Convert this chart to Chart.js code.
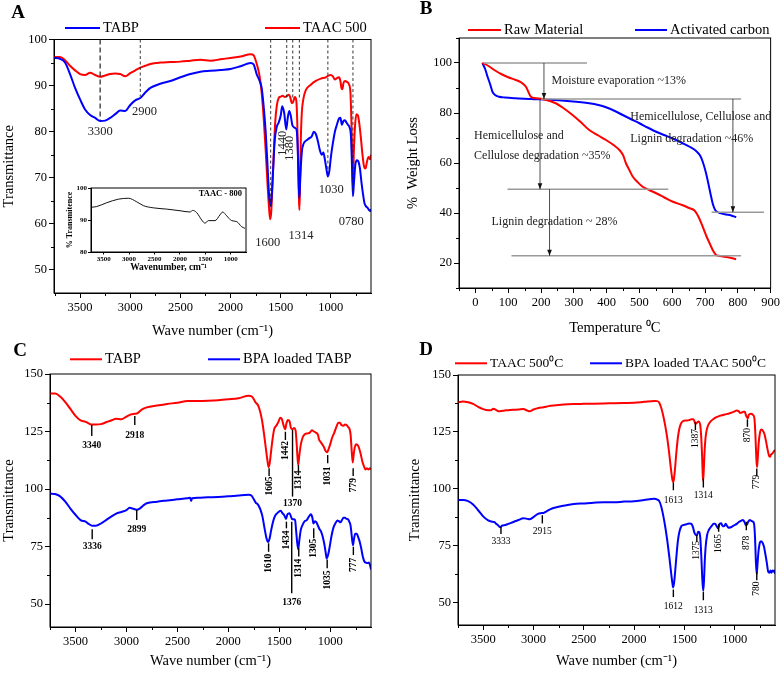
<!DOCTYPE html>
<html>
<head>
<meta charset="utf-8">
<script src="https://cdn.jsdelivr.net/npm/chart.js@4.4.0/dist/chart.umd.min.js"></script>
<style>
    html, body { margin: 0; padding: 0; background: #fff; }
    #wrap { position: relative; width: 782px; height: 674px; }
    #wrap canvas { position: absolute; left: 0; top: 0; }
</style>
</head>
<body>
<div id="wrap">
    <canvas id="chartA" width="782" height="674"></canvas>
    <canvas id="chartInset" width="782" height="674"></canvas>
    <canvas id="chartB" width="782" height="674"></canvas>
    <canvas id="chartC" width="782" height="674"></canvas>
    <canvas id="chartD" width="782" height="674"></canvas>
</div>
<script>
(function () {
    "use strict";

    // ---------- data ----------
    var waveTicks = [3500, 3000, 2500, 2000, 1500, 1000];
    var waveMinor = [3750, 3250, 2750, 2250, 1750, 1250, 750];

    // Panel A
    var aTransTicks = [50, 60, 70, 80, 90, 100];
    var aTransMinor = [55, 65, 75, 85, 95];
    var aTabpWave = [3760, 3700, 3650, 3600, 3550, 3500, 3450, 3400, 3350, 3300, 3250, 3200, 3150, 3100, 3050, 3000, 2950, 2900, 2850, 2800, 2700, 2600, 2500, 2400, 2300, 2200, 2100, 2000, 1900, 1800, 1770, 1740, 1710, 1690, 1670, 1650, 1630, 1615, 1600, 1590, 1575, 1560, 1540, 1520, 1500, 1485, 1465, 1445, 1430, 1415, 1400, 1385, 1370, 1355, 1340, 1330, 1320, 1314, 1305, 1290, 1270, 1250, 1220, 1190, 1170, 1150, 1130, 1110, 1090, 1075, 1060, 1045, 1030, 1015, 1000, 980, 960, 940, 920, 905, 890, 875, 860, 845, 830, 815, 800, 790, 780, 770, 755, 740, 725, 710, 695, 680, 665, 650, 635, 620, 605, 600];
    var aTabpTrans = [96.0, 95.8, 95.0, 92.5, 89.5, 87.0, 84.8, 83.6, 83.0, 82.3, 82.4, 83.0, 83.8, 84.6, 84.5, 85.8, 86.8, 87.3, 88.5, 89.5, 90.4, 91.0, 91.8, 92.5, 93.0, 93.2, 93.4, 93.6, 94.2, 94.9, 94.6, 92.5, 91.0, 89.5, 85.5, 80.0, 72.0, 66.0, 63.8, 66.0, 72.0, 78.0, 81.0, 82.0, 83.5, 85.5, 84.0, 80.5, 83.0, 84.5, 83.5, 81.5, 81.0, 80.8, 80.2, 76.0, 68.0, 65.5, 70.0, 75.5, 77.5, 78.0, 78.5, 79.0, 80.0, 79.5, 78.0, 76.0, 75.0, 75.5, 74.0, 72.0, 70.3, 71.5, 74.5, 77.5, 80.0, 81.5, 82.8, 83.0, 81.5, 82.3, 82.5, 82.0, 81.5, 81.0, 79.0, 73.0, 66.0, 69.0, 73.0, 73.8, 73.5, 72.0, 69.0, 66.5, 64.5, 63.8, 63.5, 63.0, 62.8, 63.2];
    var aTaacWave = [3760, 3700, 3650, 3600, 3550, 3500, 3450, 3400, 3350, 3300, 3250, 3200, 3150, 3100, 3050, 3000, 2950, 2900, 2850, 2800, 2700, 2600, 2500, 2400, 2300, 2200, 2100, 2000, 1900, 1800, 1770, 1750, 1730, 1710, 1690, 1670, 1650, 1630, 1615, 1605, 1595, 1585, 1570, 1555, 1540, 1520, 1500, 1480, 1460, 1440, 1420, 1405, 1390, 1375, 1360, 1345, 1335, 1325, 1318, 1314, 1308, 1300, 1290, 1275, 1250, 1200, 1150, 1100, 1050, 1020, 1000, 980, 960, 940, 920, 905, 895, 885, 875, 860, 840, 820, 805, 795, 785, 780, 772, 760, 745, 730, 715, 700, 685, 670, 655, 640, 625, 610, 600];
    var aTaacTrans = [96.2, 96.2, 95.5, 94.3, 93.3, 92.5, 92.3, 92.8, 92.3, 91.9, 92.2, 92.5, 92.6, 92.5, 92.0, 92.7, 93.3, 93.9, 94.3, 94.7, 95.0, 95.1, 95.2, 95.4, 95.6, 95.4, 95.7, 96.0, 96.3, 96.8, 96.6, 95.5, 94.0, 92.0, 88.5, 83.0, 76.0, 68.0, 63.0, 61.0, 62.5, 67.0, 75.0, 82.0, 85.5, 87.3, 87.6, 87.8, 87.5, 87.7, 88.0, 87.5, 86.2, 86.5, 87.5, 86.8, 82.0, 72.0, 65.0, 63.0, 68.0, 78.0, 84.0, 87.0, 89.0, 90.2, 91.0, 91.5, 91.8, 92.2, 92.3, 92.0, 91.3, 91.6, 91.8, 91.0, 89.5, 89.2, 90.5, 91.0, 90.8, 90.3, 88.5, 82.0, 72.0, 68.0, 75.0, 81.0, 83.8, 83.5, 81.5, 78.5, 75.0, 72.5, 72.0, 73.5, 74.5, 74.0, 75.0];
    var aPeakWave = [3300, 2900, 1600, 1440, 1380, 1314, 1030, 780];
    var aPeakLineEnd = [82.5, 87.6, 63.7, 87.4, 87.4, 86.8, 71, 66.6];
    var aLabelText = ['3300', '2900', '1440', '1380', '1600', '1314', '1030', '0780'];
    var aLabelWave = [3300, 2857, 1484, 1407, 1630, 1297, 997, 797];
    var aLabelTrans = [80, 84.3, 77.5, 76.4, 56, 57.5, 67.3, 60.4];

    // Inset (TAAC - 800)
    var insetTicks = [80, 90, 100];
    var insetWave = [3736, 3638, 3441, 3213, 3016, 2851, 2721, 2524, 2260, 1999, 1801, 1749, 1670, 1572, 1507, 1442, 1310, 1212, 1159, 1080, 982, 883, 785, 720];
    var insetTrans = [94.0, 94.2, 95.4, 96.5, 96.8, 95.7, 94.5, 93.8, 93.4, 92.9, 92.5, 93.0, 92.3, 90.0, 89.0, 89.8, 89.8, 91.6, 92.5, 91.3, 89.8, 89.5, 87.9, 87.4];

    // Panel B (TGA)
    var tempTicks = [0, 100, 200, 300, 400, 500, 600, 700, 800, 900];
    var tempMinor = [-50, 50, 150, 250, 350, 450, 550, 650, 750, 850];
    var lossTicks = [20, 40, 60, 80, 100];
    var lossMinor = [10, 30, 50, 70, 90, 110];
    var rawTemp = [21, 40, 60, 80, 100, 123, 140, 154, 162, 169, 180, 205, 245, 270, 296, 320, 347, 375, 398, 420, 439, 450, 459, 470, 480, 495, 510, 530, 551, 575, 602, 630, 653, 668, 680, 693, 705, 714, 725, 734, 745, 770, 795];
    var rawLoss = [100, 98.8, 97, 95.5, 94.3, 93.2, 92.2, 90.5, 88.3, 86.5, 86.0, 85.6, 83.9, 81.8, 79.2, 76.5, 73.2, 71.0, 69.2, 67.3, 65.2, 63.2, 59.9, 57.0, 54.5, 52.3, 50.5, 49.2, 47.9, 46.3, 44.5, 43.2, 41.9, 41.0, 38.5, 34.5, 30.5, 27.9, 24.8, 23.2, 22.8, 22.3, 21.5];
    var carbonTemp = [21, 30, 37, 45, 52, 60, 72, 90, 123, 170, 225, 280, 347, 375, 398, 425, 449, 475, 500, 525, 551, 575, 602, 630, 653, 673, 685, 693, 702, 709, 717, 724, 731, 739, 760, 780, 795];
    var carbonLoss = [100, 97.5, 94.5, 91.5, 88.5, 87.2, 86.5, 86.2, 85.9, 85.6, 85.3, 84.8, 83.9, 83.2, 82.3, 80.8, 79.2, 77.5, 75.9, 74.2, 72.5, 71.2, 69.8, 68.0, 66.5, 64.8, 63.0, 60.5, 56.5, 52.5, 47.5, 43.5, 41.2, 40.3, 39.5, 39.0, 38.3];
    // guide lines [from, to, level], arrows [temp, from, to]
    var bGuides = [[25, 340, 100], [200, 810, 85.6], [98, 588, 49.5], [110, 810, 22.9], [720, 880, 40.3]];
    var bArrows = [[209, 100, 85.6], [197, 85.6, 49.5], [226, 49.5, 22.9], [785, 85.6, 40.3]];
    var bNotes = [
        ['Moisture evaporation ~13%', 232, 92.8],
        ['Hemicellulose, Cellulose and', 472, 78.4],
        ['Lignin degradation ~46%', 472, 69.6],
        ['Hemicellulose and', -4, 71],
        ['Cellulose degradation ~35%', -4, 62.8],
        ['Lignin degradation ~ 28%', 49, 36.4]
    ];

    // Panels C and D
    var cdTransTicks = [50, 75, 100, 125, 150];
    var cdTransMinor = [62.5, 87.5, 112.5, 137.5];
    var cTabpWave = [3750, 3700, 3650, 3600, 3550, 3500, 3450, 3400, 3370, 3340, 3300, 3250, 3200, 3150, 3100, 3050, 3000, 2950, 2918, 2890, 2850, 2800, 2700, 2600, 2500, 2400, 2300, 2200, 2100, 2000, 1900, 1800, 1770, 1750, 1730, 1710, 1690, 1670, 1650, 1630, 1615, 1605, 1595, 1580, 1565, 1550, 1530, 1510, 1490, 1475, 1460, 1442, 1430, 1415, 1400, 1385, 1370, 1355, 1340, 1330, 1320, 1314, 1305, 1290, 1270, 1250, 1220, 1200, 1180, 1160, 1140, 1120, 1110, 1095, 1080, 1065, 1045, 1031, 1015, 1000, 980, 960, 940, 920, 905, 890, 870, 855, 840, 825, 810, 800, 790, 779, 770, 760, 745, 730, 715, 700, 685, 670, 655, 640, 625, 610, 600];
    var cTabpTrans = [141.5, 141.5, 140.2, 137.8, 134.8, 131.8, 129.8, 129.2, 128.5, 128.0, 128.0, 128.2, 129.0, 129.8, 130.5, 130.3, 131.5, 132.5, 132.7, 133.0, 134.5, 135.5, 136.3, 137.0, 137.5, 138.3, 138.3, 138.4, 138.6, 139.0, 139.5, 140.5, 140.2, 139.0, 137.5, 136.5, 134.0, 130.0, 124.0, 117.0, 112.0, 109.5, 111.0, 116.5, 122.0, 126.0, 127.5, 129.0, 131.0, 130.5, 128.0, 126.0, 128.5, 130.0, 129.5, 126.5, 126.0, 126.5, 125.5, 120.0, 113.0, 110.5, 114.0, 119.0, 122.5, 123.8, 124.2, 124.5, 125.5, 125.0, 124.5, 123.5, 121.5, 120.5, 119.5, 118.5, 116.5, 116.0, 117.5, 119.5, 122.5, 124.5, 127.0, 128.8, 128.8, 127.8, 127.5, 128.0, 127.8, 127.0, 126.0, 123.5, 117.0, 111.5, 115.0, 118.0, 119.5, 119.0, 117.5, 115.0, 112.0, 110.0, 108.5, 109.0, 108.5, 109.0, 108.5];
    var cLoadedWave = [3750, 3700, 3650, 3600, 3550, 3500, 3450, 3400, 3370, 3336, 3300, 3250, 3200, 3150, 3100, 3050, 3000, 2970, 2940, 2900, 2870, 2830, 2800, 2700, 2600, 2500, 2400, 2375, 2365, 2355, 2300, 2200, 2100, 2000, 1900, 1800, 1770, 1750, 1730, 1715, 1700, 1685, 1665, 1645, 1625, 1610, 1595, 1580, 1560, 1540, 1520, 1500, 1485, 1470, 1450, 1434, 1420, 1400, 1385, 1376, 1360, 1345, 1335, 1325, 1314, 1305, 1290, 1270, 1250, 1230, 1210, 1190, 1175, 1165, 1150, 1135, 1120, 1105, 1090, 1075, 1060, 1045, 1035, 1020, 1005, 990, 970, 950, 930, 915, 900, 885, 870, 855, 840, 825, 810, 800, 790, 777, 768, 755, 740, 725, 710, 695, 680, 665, 650, 635, 620, 610, 600];
    var cLoadedTrans = [98.0, 97.8, 96.8, 94.5, 91.5, 88.8, 86.5, 85.8, 84.8, 84.0, 84.0, 85.0, 86.5, 88.0, 89.3, 90.0, 90.8, 91.8, 91.5, 91.0, 91.5, 93.0, 93.8, 94.5, 95.0, 95.5, 96.0, 96.2, 94.8, 96.0, 96.2, 96.4, 96.5, 96.8, 97.2, 97.5, 97.0, 95.5, 94.0, 93.5, 92.5, 91.0, 88.0, 83.0, 78.5, 77.0, 78.5, 82.0, 86.0, 88.5, 89.5, 90.3, 90.5, 89.5, 88.5, 87.0, 89.0, 89.5, 88.0, 87.0, 86.8, 86.5, 82.0, 77.0, 73.8, 77.0, 82.0, 84.5, 86.0, 86.5, 88.0, 89.0, 87.5, 85.0, 86.0, 85.5, 84.0, 82.5, 81.5, 79.5, 76.5, 72.5, 69.8, 71.5, 75.0, 79.0, 83.0, 85.0, 86.3, 86.0, 85.5, 86.5, 87.5, 87.5, 87.0, 86.8, 85.5, 84.0, 80.0, 75.5, 78.0, 80.5, 80.5, 79.0, 77.0, 74.0, 70.5, 68.5, 68.0, 67.8, 68.0, 67.0, 65.0];
    // marks: [label, wave, tick from, tick to, label level, rotated]
    var cMarks = [
        ['3340', 3340, 127.8, 123.0, 119.1, 0], ['2918', 2918, 131.7, 127.8, 123.3, 0],
        ['1605', 1600, 109.0, 105.7, 101.3, 1], ['1442', 1440, 124.9, 121.3, 116.7, 1],
        ['1370', 1370, 125.7, 96.7, 93.8, 0], ['1314', 1312, 110.4, 107.5, 103.9, 1],
        ['1031', 1025, 114.8, 111.2, 105.7, 1], ['779', 775, 109.0, 105.7, 101.7, 1],
        ['3336', 3336, 82.5, 78.1, 74.8, 0], ['2899', 2899, 90.9, 86.5, 82.2, 0],
        ['1610', 1605, 76.4, 72.7, 67.7, 1], ['1434', 1430, 85.8, 82.9, 77.8, 1],
        ['1376', 1378, 85.8, 54.7, 50.6, 0], ['1314', 1309, 74.2, 70.6, 65.5, 1],
        ['1305', 1162, 82.9, 78.6, 74.2, 1], ['1035', 1030, 69.4, 65.5, 60.4, 1],
        ['777', 773, 74.9, 71.3, 67.0, 1]
    ];

    var dTaacWave = [3750, 3700, 3650, 3600, 3550, 3500, 3450, 3420, 3400, 3370, 3350, 3300, 3250, 3200, 3150, 3100, 3060, 3040, 3000, 2950, 2900, 2850, 2800, 2700, 2600, 2500, 2400, 2300, 2200, 2100, 2000, 1900, 1800, 1770, 1750, 1730, 1710, 1690, 1670, 1650, 1635, 1620, 1613, 1605, 1595, 1580, 1565, 1550, 1530, 1510, 1490, 1470, 1450, 1430, 1410, 1395, 1387, 1375, 1360, 1345, 1335, 1325, 1318, 1314, 1308, 1300, 1290, 1275, 1250, 1200, 1150, 1100, 1050, 1000, 980, 960, 945, 930, 915, 900, 890, 880, 870, 860, 840, 820, 805, 795, 785, 779, 772, 762, 750, 735, 720, 705, 690, 675, 660, 650, 640, 625, 610, 600];
    var dTaacTrans = [138.0, 138.3, 138.0, 137.3, 136.0, 135.0, 134.5, 134.5, 135.2, 134.6, 134.0, 134.3, 134.5, 134.7, 134.8, 135.0, 134.3, 134.0, 134.8, 135.5, 135.8, 136.3, 136.6, 137.0, 137.2, 137.3, 137.4, 137.5, 137.6, 137.7, 137.8, 138.2, 138.6, 138.5, 137.8, 135.5, 132.0, 127.5, 122.0, 115.0, 109.0, 104.0, 102.8, 104.0, 108.0, 116.0, 122.5, 126.5, 129.0, 129.8, 130.0, 130.0, 130.2, 130.5, 130.5, 129.0, 128.5, 129.0, 129.5, 128.5, 124.0, 115.0, 106.0, 103.5, 108.0, 116.0, 122.5, 126.5, 129.0, 131.0, 132.0, 132.6, 133.2, 134.0, 134.4, 134.0, 133.3, 133.5, 133.8, 133.8, 132.5, 131.5, 131.0, 132.5, 133.0, 132.5, 131.0, 124.0, 113.0, 109.5, 113.0, 120.0, 124.5, 126.0, 125.5, 124.0, 121.0, 117.5, 114.5, 114.0, 115.0, 115.5, 116.5, 117.0];
    var dLoadedWave = [3750, 3700, 3650, 3600, 3550, 3500, 3450, 3420, 3390, 3370, 3350, 3333, 3310, 3280, 3250, 3200, 3150, 3100, 3060, 3040, 3000, 2960, 2930, 2900, 2870, 2830, 2800, 2700, 2600, 2500, 2400, 2300, 2200, 2100, 2000, 1900, 1800, 1770, 1750, 1730, 1710, 1690, 1670, 1650, 1635, 1620, 1612, 1603, 1593, 1580, 1565, 1550, 1530, 1510, 1490, 1470, 1450, 1430, 1415, 1400, 1385, 1375, 1365, 1352, 1342, 1332, 1322, 1313, 1305, 1298, 1290, 1275, 1255, 1230, 1210, 1195, 1180, 1165, 1150, 1135, 1120, 1105, 1090, 1075, 1060, 1040, 1020, 1000, 980, 960, 940, 920, 905, 890, 878, 865, 850, 835, 820, 808, 798, 790, 782, 775, 765, 752, 740, 725, 710, 695, 680, 668, 655, 645, 635, 625, 615, 605, 600];
    var dLoadedTrans = [95.0, 95.0, 94.5, 93.0, 90.5, 87.8, 86.0, 85.5, 85.3, 84.5, 83.8, 83.0, 83.8, 84.0, 84.5, 85.3, 86.2, 87.0, 86.7, 86.5, 87.5, 88.8, 89.2, 89.3, 90.0, 91.0, 91.5, 92.5, 93.2, 93.5, 93.8, 94.0, 94.0, 94.3, 94.5, 95.0, 95.5, 95.2, 94.5, 92.0, 88.0, 83.0, 77.0, 70.0, 64.0, 58.5, 56.5, 58.5, 63.0, 70.0, 77.0, 81.0, 83.5, 84.0, 84.2, 84.5, 84.7, 84.5, 83.0, 80.5, 79.5, 79.5, 81.0, 80.8, 78.0, 70.0, 60.0, 55.0, 60.0, 68.0, 74.0, 79.5, 82.0, 83.5, 84.5, 84.5, 83.5, 82.5, 84.5, 84.8, 83.5, 83.5, 84.5, 83.5, 82.8, 83.0, 83.5, 84.0, 84.5, 85.3, 85.8, 86.2, 85.5, 84.0, 84.2, 85.5, 86.2, 85.8, 85.5, 84.5, 78.0, 68.0, 62.5, 66.0, 72.0, 76.0, 76.8, 76.3, 74.5, 71.0, 67.0, 63.5, 63.0, 64.0, 63.0, 64.0, 63.5, 64.0, 62.5];
    var dMarks = [
        ['1613', 1610, 102.6, 99.3, 94.9, 0], ['1387', 1391, 129.4, 125.8, 122.1, 1],
        ['1314', 1312, 104.5, 100.5, 97.1, 0], ['870', 874, 130.5, 127.2, 123.6, 1],
        ['779', 781, 108.9, 105.5, 103.0, 1],
        ['3333', 3323, 83.2, 80.0, 76.6, 0], ['2915', 2912, 88.3, 84.7, 81.0, 0],
        ['1612', 1610, 55.6, 52.3, 48.2, 0], ['1375', 1377, 79.5, 76.6, 72.9, 1],
        ['1313', 1312, 54.5, 50.9, 46.5, 0], ['1665', 1160, 84.4, 81.0, 75.9, 1],
        ['878', 885, 85.4, 81.7, 76.1, 1], ['780', 781, 63.3, 59.7, 56.0, 1]
    ];

    // ---------- helpers ----------
    var SERIF = '"Liberation Serif", "Times New Roman", serif';
    var W = 782, H = 674;
    var RED = '#ff0000', BLUE = '#0000ff';

    function pts(xs, ys) {
        return xs.map(function (x, i) { return { x: x, y: ys[i] }; });
    }

    function line(data, color, width) {
        return {
            data: data, borderColor: color, borderWidth: width || 2, pointRadius: 0,
            fill: false, cubicInterpolationMode: 'monotone'
        };
    }

    function makeScale(o) {
        return {
            type: 'linear',
            position: o.position,
            min: o.min, max: o.max, reverse: !!o.reverse,
            afterBuildTicks: function (s) {
                s.ticks = o.ticks.map(function (v) { return { value: v }; });
            },
            afterFit: function (s) {
                if (o.position === 'bottom') s.height = o.size; else s.width = o.size;
            },
            grid: { drawOnChartArea: false, drawTicks: true, tickLength: o.tickLength || 5, color: '#000', tickColor: '#000' },
            border: { display: true, color: '#000', width: 1 },
            ticks: {
                color: '#000', padding: o.tickPadding == null ? 2 : o.tickPadding, maxRotation: 0, autoSkip: false,
                callback: function (v) { return String(v); },
                font: { family: SERIF, size: o.tickSize || 12.5, weight: o.bold ? 'bold' : 'normal' }
            },
            title: {
                display: !!o.title, text: o.title, color: '#000',
                padding: o.titlePadding || { top: 4, bottom: 4 },
                font: { family: SERIF, size: o.titleSize || 14.5, weight: o.bold ? 'bold' : 'normal' }
            }
        };
    }

    function makeChart(id, area, pad, datasets, xOpt, yOpt, draw) {
        xOpt.position = 'bottom';
        yOpt.position = 'left';
        xOpt.size = H - pad.bottom - area.b;
        yOpt.size = area.l - pad.left;
        return new Chart(document.getElementById(id), {
            type: 'line',
            data: { datasets: datasets },
            options: {
                responsive: false, animation: false, events: [],
                layout: { padding: { left: pad.left, top: area.t, right: W - area.r, bottom: pad.bottom } },
                plugins: { legend: { display: false }, tooltip: { enabled: false } },
                scales: { x: makeScale(xOpt), y: makeScale(yOpt) }
            },
            plugins: [{ id: 'decor', afterDraw: function (chart) { draw(chart, chart.ctx, chart.scales.x, chart.scales.y); } }]
        });
    }

    function frame(chart) {
        var a = chart.chartArea, ctx = chart.ctx;
        ctx.save();
        ctx.strokeStyle = '#000';
        ctx.lineWidth = 1;
        ctx.strokeRect(a.left, a.top, a.right - a.left, a.bottom - a.top);
        ctx.restore();
    }

    function minorTicks(chart, scale, values, len) {
        var a = chart.chartArea, ctx = chart.ctx;
        ctx.save();
        ctx.strokeStyle = '#000';
        ctx.lineWidth = 1;
        ctx.beginPath();
        values.forEach(function (v) {
            var p = Math.round(scale.getPixelForValue(v)) + 0.5;
            if (scale.isHorizontal()) { ctx.moveTo(p, a.bottom); ctx.lineTo(p, a.bottom + len); }
            else { ctx.moveTo(a.left - len, p); ctx.lineTo(a.left, p); }
        });
        ctx.stroke();
        ctx.restore();
    }

    function text(ctx, str, x, y, size, o) {
        o = o || {};
        ctx.save();
        ctx.font = (o.bold ? 'bold ' : '') + size + 'px ' + SERIF;
        ctx.fillStyle = o.color || '#000';
        ctx.textAlign = o.align || 'center';
        ctx.textBaseline = 'middle';
        ctx.translate(x, y);
        if (o.rotate) ctx.rotate(-Math.PI / 2);
        ctx.fillText(str, 0, 0);
        ctx.restore();
    }

    function seg(ctx, x1, y1, x2, y2, color, width, dash) {
        ctx.save();
        ctx.strokeStyle = color;
        ctx.lineWidth = width;
        ctx.setLineDash(dash || []);
        ctx.beginPath();
        ctx.moveTo(x1, y1);
        ctx.lineTo(x2, y2);
        ctx.stroke();
        ctx.restore();
    }

    function legendItem(ctx, color, x1, x2, y, label, size) {
        seg(ctx, x1, y, x2, y, color, 2);
        text(ctx, label, x2 + 3, y, size, { align: 'left' });
    }

    function drawMarks(ctx, xs, ys, marks, size, bold) {
        marks.forEach(function (m) {
            var x = xs.getPixelForValue(m[1]);
            seg(ctx, x, ys.getPixelForValue(m[2]), x, ys.getPixelForValue(m[3]), '#000', 1.4);
            text(ctx, m[0], x, ys.getPixelForValue(m[4]), size, { bold: bold, rotate: !!m[5] });
        });
    }

    Chart.defaults.font.family = SERIF;

    // ---------- Panel A ----------
    makeChart('chartA', { l: 54, t: 39.5, r: 371, b: 293 }, { left: 0, bottom: 330.3 },
        [line(pts(aTabpWave, aTabpTrans), BLUE, 2), line(pts(aTaacWave, aTaacTrans), RED, 2)],
        { min: 600, max: 3760, reverse: true, ticks: waveTicks, title: 'Wave number (cm\u207B\u00B9)' },
        { min: 45, max: 100, ticks: aTransTicks, title: 'Transmittance', titlePadding: { top: 0.5, bottom: 4 } },
        function (chart, ctx, xs, ys) {
            frame(chart);
            minorTicks(chart, xs, waveMinor, 3);
            minorTicks(chart, ys, aTransMinor, 3);
            aPeakWave.forEach(function (w, i) {
                var x = xs.getPixelForValue(w);
                var dash = i === 0 ? [5, 3] : [3, 2.5];
                seg(ctx, x, ys.getPixelForValue(100), x, ys.getPixelForValue(aPeakLineEnd[i]), '#222', i === 0 ? 1.2 : 0.9, dash);
            });
            aLabelText.forEach(function (t, i) {
                text(ctx, t, xs.getPixelForValue(aLabelWave[i]), ys.getPixelForValue(aLabelTrans[i]), 12.5,
                    { color: '#222', rotate: t === '1440' || t === '1380' });
            });
            legendItem(ctx, BLUE, 65, 100, 28, 'TABP', 14.5);
            legendItem(ctx, RED, 265, 300, 28, 'TAAC 500', 14.5);
            text(ctx, 'A', 18, 13, 19, { bold: true });
        });

    // inset
    makeChart('chartInset', { l: 91, t: 188, r: 246, b: 252 }, { left: 64.5, bottom: 399.5 },
        [line(pts(insetWave, insetTrans), '#111', 1)],
        { min: 700, max: 3750, reverse: true, ticks: waveTicks, title: 'Wavenumber, cm\u207B\u00B9', bold: true,
          tickSize: 7, titleSize: 9.5, tickLength: 2.5, tickPadding: 0, titlePadding: { top: 1, bottom: 1 } },
        { min: 80, max: 100, ticks: insetTicks, title: '% Transmitence', bold: true,
          tickSize: 7, titleSize: 8, tickLength: 3, tickPadding: 1, titlePadding: { top: 1, bottom: 1 } },
        function (chart, ctx) {
            frame(chart);
            text(ctx, 'TAAC - 800', 242, 193.5, 8.5, { bold: true, align: 'right' });
        });

    // ---------- Panel B ----------
    makeChart('chartB', { l: 459, t: 38, r: 771, b: 288 }, { left: 400, bottom: 333.3 },
        [line(pts(rawTemp, rawLoss), RED, 2), line(pts(carbonTemp, carbonLoss), BLUE, 2)],
        { min: -50, max: 900, ticks: tempTicks, title: 'Temperature \u2070C' },
        { min: 10, max: 110, ticks: lossTicks, title: '%  Weight Loss', titlePadding: { top: 4.3, bottom: 4 } },
        function (chart, ctx, xs, ys) {
            frame(chart);
            minorTicks(chart, xs, tempMinor, 3);
            minorTicks(chart, ys, lossMinor, 3);
            bGuides.forEach(function (g) {
                var y = ys.getPixelForValue(g[2]);
                seg(ctx, xs.getPixelForValue(g[0]), y, xs.getPixelForValue(g[1]), y, '#9a9a9a', 1.3);
            });
            bArrows.forEach(function (a) {
                var x = xs.getPixelForValue(a[0]);
                var y1 = ys.getPixelForValue(a[1]), y2 = ys.getPixelForValue(a[2]);
                seg(ctx, x, y1, x, y2, '#222', 0.8);
                ctx.save();
                ctx.fillStyle = '#111';
                ctx.beginPath();
                ctx.moveTo(x - 2.3, y2 - 6);
                ctx.lineTo(x + 2.3, y2 - 6);
                ctx.lineTo(x, y2);
                ctx.closePath();
                ctx.fill();
                ctx.restore();
            });
            bNotes.forEach(function (n) {
                text(ctx, n[0], xs.getPixelForValue(n[1]), ys.getPixelForValue(n[2]), 12, { align: 'left', color: '#222' });
            });
            legendItem(ctx, RED, 468, 501, 30, 'Raw Material', 14.5);
            legendItem(ctx, BLUE, 635, 667, 30, 'Activated carbon', 14.5);
            text(ctx, 'B', 426, 9, 19, { bold: true });
        });

    // ---------- Panel C ----------
    makeChart('chartC', { l: 50, t: 374, r: 371, b: 627 }, { left: 0, bottom: 0 },
        [line(pts(cTabpWave, cTabpTrans), RED, 2), line(pts(cLoadedWave, cLoadedTrans), BLUE, 2)],
        { min: 600, max: 3750, reverse: true, ticks: waveTicks, title: 'Wave number (cm\u207B\u00B9)' },
        { min: 40, max: 150, ticks: cdTransTicks, title: 'Transmittance', titlePadding: { top: 0, bottom: 4 } },
        function (chart, ctx, xs, ys) {
            frame(chart);
            minorTicks(chart, xs, waveMinor, 3);
            minorTicks(chart, ys, cdTransMinor, 3);
            drawMarks(ctx, xs, ys, cMarks, 9.5, true);
            legendItem(ctx, RED, 70, 102, 359.3, 'TABP', 14.5);
            legendItem(ctx, BLUE, 208, 240, 359.3, 'BPA loaded TABP', 14.5);
            text(ctx, 'C', 20, 351, 19, { bold: true });
        });

    // ---------- Panel D ----------
    makeChart('chartD', { l: 458, t: 375, r: 775, b: 625 }, { left: 402, bottom: 0 },
        [line(pts(dTaacWave, dTaacTrans), RED, 2), line(pts(dLoadedWave, dLoadedTrans), BLUE, 2)],
        { min: 600, max: 3750, reverse: true, ticks: waveTicks, title: 'Wave number (cm\u207B\u00B9)' },
        { min: 40, max: 150, ticks: cdTransTicks, title: 'Transmittance', titlePadding: { top: 4.3, bottom: 4 } },
        function (chart, ctx, xs, ys) {
            frame(chart);
            minorTicks(chart, xs, waveMinor, 3);
            minorTicks(chart, ys, cdTransMinor, 3);
            drawMarks(ctx, xs, ys, dMarks, 9.5, false);
            legendItem(ctx, RED, 455, 487, 363.3, 'TAAC 500\u2070C', 13.5);
            legendItem(ctx, BLUE, 590, 622, 363.3, 'BPA loaded TAAC 500\u2070C', 13.5);
            text(ctx, 'D', 426, 350, 19, { bold: true });
        });

})();
</script>
</body>
</html>
